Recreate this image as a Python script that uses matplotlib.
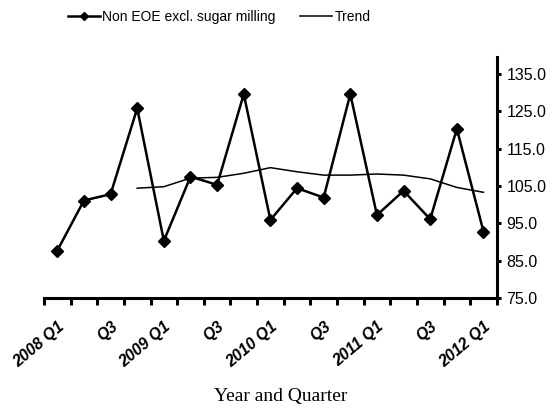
import matplotlib
matplotlib.use("Agg")
import matplotlib.pyplot as plt
from matplotlib.lines import Line2D

sans = "Liberation Sans"

quarters = ["2008 Q1", "Q2", "Q3", "Q4", "2009 Q1", "Q2", "Q3", "Q4",
            "2010 Q1", "Q2", "Q3", "Q4", "2011 Q1", "Q2", "Q3", "Q4", "2012 Q1"]
tick_labels = ["2008 Q1", "Q3", "2009 Q1", "Q3", "2010 Q1", "Q3", "2011 Q1", "Q3", "2012 Q1"]
series = [87.7, 101.1, 102.8, 125.8, 90.3, 107.5, 105.3, 129.6, 95.9,
          104.4, 101.9, 129.6, 97.2, 103.7, 96.1, 120.3, 92.8]
trend = [None, None, None, 104.4, 104.8, 107.1, 107.3, 108.4, 109.9,
         108.8, 107.9, 107.9, 108.2, 107.9, 106.9, 104.6, 103.3]
yticks = [75, 85, 95, 105, 115, 125, 135]

fig = plt.figure(figsize=(5.52, 4.11), dpi=100)
ax = fig.add_axes([0.0797, 0.275, 0.8203, 0.586])

x = list(range(len(quarters)))
ax.plot(x, series, color="black", lw=1.8, marker="D", ms=6, zorder=3)
tx = [i for i, v in enumerate(trend) if v is not None]
tv = [v for v in trend if v is not None]
ax.plot(tx, tv, color="black", lw=1.1, zorder=2)

ax.set_xlim(-0.5, len(quarters) - 0.5)
ax.set_ylim(75, 139.5)
ax.set_yticks(yticks)
ax.yaxis.tick_right()
ax.set_yticklabels([f"{v:.1f}" for v in yticks], fontfamily=sans, fontsize=11.5)
ax.tick_params(axis="y", direction="out", length=3, width=2.2, pad=4)

# category boundary ticks
ax.set_xticks([i - 0.5 for i in range(len(quarters) + 1)])
ax.set_xticklabels([])
ax.tick_params(axis="x", which="major", direction="out", length=5, width=2.2)
ax.set_xticks(list(range(0, len(quarters), 2)), minor=True)
ax.set_xticklabels(tick_labels, minor=True, rotation=40, ha="right", va="top",
                   rotation_mode="anchor", fontfamily=sans, fontsize=11.5,
                   fontweight="bold", fontstyle="italic")
ax.tick_params(axis="x", which="minor", length=0, pad=15)

for s in ["left", "top"]:
    ax.spines[s].set_visible(False)
for s in ["right", "bottom"]:
    ax.spines[s].set_linewidth(2.2)

fig.text(281 / 552, 1 - 396 / 411, "Year and Quarter", fontfamily="Liberation Serif",
         fontsize=14, ha="center", va="center")

handles = [Line2D([], [], color="black", lw=1.8, marker="D", ms=4),
           Line2D([], [], color="black", lw=1.1)]
fig.legend(handles, ["Non EOE excl. sugar milling", "Trend"], loc="center left",
           bbox_to_anchor=(68 / 552, 1 - 17 / 411), ncol=2, frameon=False,
           prop={"family": sans, "size": 10}, handlelength=2.3,
           handletextpad=0.15, columnspacing=1.8, borderpad=0, borderaxespad=0)

fig.savefig("out.png", dpi=100)
